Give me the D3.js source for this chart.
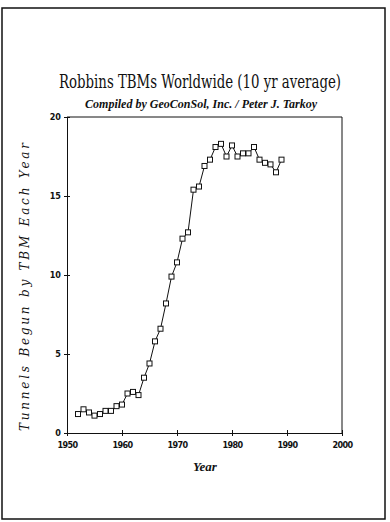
<!DOCTYPE html>
<html>
<head>
<meta charset="utf-8">
<script src="https://cdn.jsdelivr.net/npm/d3@7"></script>
<style>
  html, body { margin: 0; padding: 0; background: #fff; }
  svg { display: block; }
</style>
</head>
<body>
<svg id="chart" width="390" height="522"></svg>
<script>
// Robbins TBMs, 10-year average of tunnels begun per TBM per year
const years = [1952, 1953, 1954, 1955, 1956, 1957, 1958, 1959, 1960, 1961,
  1962, 1963, 1964, 1965, 1966, 1967, 1968, 1969, 1970, 1971,
  1972, 1973, 1974, 1975, 1976, 1977, 1978, 1979, 1980, 1981,
  1982, 1983, 1984, 1985, 1986, 1987, 1988, 1989];
const tunnels = [1.2, 1.5, 1.3, 1.1, 1.2, 1.4, 1.4, 1.7, 1.8, 2.5,
  2.6, 2.4, 3.5, 4.4, 5.8, 6.6, 8.2, 9.9, 10.8, 12.3,
  12.7, 15.4, 15.6, 16.9, 17.3, 18.1, 18.3, 17.5, 18.2, 17.5,
  17.7, 17.7, 18.1, 17.3, 17.1, 17.0, 16.5, 17.3];
const xTicks = [1950, 1960, 1970, 1980, 1990, 2000];
const yTicks = [0, 5, 10, 15, 20];

const title = 'Robbins TBMs Worldwide (10 yr average)';
const subtitle = 'Compiled by GeoConSol, Inc. / Peter J. Tarkoy';
const xLabel = 'Year';
const yLabel = 'Tunnels Begun by TBM Each Year';

const svg = d3.select('#chart');
const ink = '#111';

// scanned page frame
svg.append('rect')
  .attr('x', 2).attr('y', 8)
  .attr('width', 383).attr('height', 511)
  .attr('fill', 'none')
  .attr('stroke', ink)
  .attr('stroke-width', 1.5);

const plot = { left: 67, right: 342, top: 117, bottom: 433 };

const x = d3.scaleLinear().domain([1950, 2000]).range([plot.left, plot.right]);
const y = d3.scaleLinear().domain([0, 20]).range([plot.bottom, plot.top]);

// titles
svg.append('text')
  .attr('x', 200).attr('y', 88)
  .attr('text-anchor', 'middle')
  .attr('font-family', '"DejaVu Serif Condensed", "DejaVu Serif", serif')
  .attr('font-size', 19)
  .attr('textLength', 282)
  .attr('lengthAdjust', 'spacingAndGlyphs')
  .attr('fill', ink)
  .text(title);

svg.append('text')
  .attr('x', 201).attr('y', 108)
  .attr('text-anchor', 'middle')
  .attr('font-family', '"Liberation Serif", serif')
  .attr('font-style', 'italic')
  .attr('font-weight', 'bold')
  .attr('font-size', 12.5)
  .attr('textLength', 232)
  .attr('lengthAdjust', 'spacingAndGlyphs')
  .attr('fill', ink)
  .text(subtitle);

// frame: top and right sides
svg.append('path')
  .attr('d', `M${plot.left},${plot.top}H${plot.right}V${plot.bottom}`)
  .attr('fill', 'none')
  .attr('stroke', ink)
  .attr('stroke-width', 1);

// axes
const xAxis = d3.axisBottom(x)
  .tickValues(xTicks)
  .tickFormat(d3.format('d'))
  .tickSizeInner(3)
  .tickSizeOuter(0)
  .tickPadding(6);

const gx = svg.append('g')
  .attr('transform', `translate(0,${plot.bottom})`)
  .call(xAxis);
gx.selectAll('.tick line').attr('y1', -3).attr('y2', 3);

const yAxis = d3.axisLeft(y)
  .tickValues(yTicks)
  .tickSizeInner(3)
  .tickSizeOuter(0)
  .tickPadding(3);

const gy = svg.append('g')
  .attr('transform', `translate(${plot.left},0)`)
  .call(yAxis);
gy.selectAll('.tick line').attr('x1', -3).attr('x2', 3);

[gx, gy].forEach((g) => {
  g.select('.domain').attr('stroke', ink).attr('stroke-width', 1);
  g.selectAll('.tick line').attr('stroke', ink);
  g.selectAll('.tick text')
    .attr('fill', ink)
    .attr('font-family', '"Liberation Sans Narrow", "DejaVu Sans Condensed", sans-serif')
    .attr('font-weight', 'bold')
    .attr('font-size', 9);
});
gx.selectAll('.tick text').attr('letter-spacing', -0.6);

// axis labels
svg.append('text')
  .attr('x', 205).attr('y', 471)
  .attr('text-anchor', 'middle')
  .attr('font-family', '"Liberation Serif", serif')
  .attr('font-style', 'italic')
  .attr('font-weight', 'bold')
  .attr('font-size', 13)
  .attr('fill', ink)
  .text(xLabel);

svg.append('text')
  .attr('transform', `translate(29,${(plot.top + plot.bottom) / 2 + 12}) rotate(-90)`)
  .attr('text-anchor', 'middle')
  .attr('font-family', '"DejaVu Serif", serif')
  .attr('font-style', 'italic')
  .attr('font-size', 12)
  .attr('textLength', 288)
  .attr('lengthAdjust', 'spacing')
  .attr('fill', ink)
  .text(yLabel);

// series
const data = years.map((yr, i) => ({ year: yr, value: tunnels[i] }));

const line = d3.line()
  .x((d) => x(d.year))
  .y((d) => y(d.value));

svg.append('path')
  .datum(data)
  .attr('d', line)
  .attr('fill', 'none')
  .attr('stroke', ink)
  .attr('stroke-width', 1);

const sz = 5;
svg.selectAll('rect.pt')
  .data(data)
  .join('rect')
  .attr('class', 'pt')
  .attr('x', (d) => x(d.year) - sz / 2)
  .attr('y', (d) => y(d.value) - sz / 2)
  .attr('width', sz)
  .attr('height', sz)
  .attr('fill', '#fff')
  .attr('stroke', ink)
  .attr('stroke-width', 1);
</script>
</body>
</html>
